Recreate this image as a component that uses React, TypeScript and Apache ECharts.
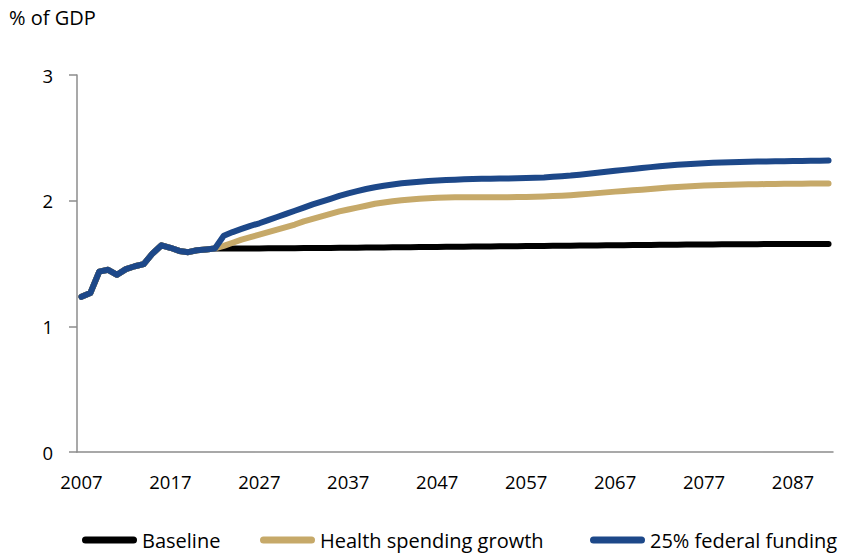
import React, { useEffect, useRef } from "react";
import * as echarts from "echarts";

const years: string[] = [];
for (let y = 2007; y <= 2091; y++) years.push(String(y));

// Shared history 2007-2022
const history = [1.235, 1.265, 1.435, 1.45, 1.41, 1.455, 1.478, 1.495, 1.58, 1.645, 1.625, 1.6, 1.59, 1.605, 1.612, 1.62];

// Projections 2023-2091
const baselineProj = [
  1.62, 1.62, 1.62, 1.62, 1.62, 1.621, 1.621, 1.622, 1.622, 1.623,
  1.623, 1.624, 1.624, 1.625, 1.626, 1.626, 1.627, 1.628, 1.628, 1.629,
  1.63, 1.63, 1.631, 1.632, 1.632, 1.633, 1.634, 1.634, 1.635, 1.636,
  1.636, 1.637, 1.638, 1.638, 1.639, 1.64, 1.64, 1.641, 1.642, 1.642,
  1.643, 1.644, 1.644, 1.645, 1.646, 1.646, 1.647, 1.648, 1.648, 1.649,
  1.65, 1.65, 1.651, 1.651, 1.652, 1.652, 1.653, 1.653, 1.654, 1.654,
  1.654, 1.655, 1.655, 1.655, 1.655, 1.656, 1.656, 1.656, 1.656,
];

const healthProj = [
  1.64, 1.665, 1.69, 1.71, 1.73, 1.75, 1.77, 1.79, 1.81, 1.835,
  1.855, 1.875, 1.895, 1.915, 1.93, 1.945, 1.96, 1.975, 1.985, 1.995,
  2.003, 2.01, 2.015, 2.02, 2.024, 2.026, 2.027, 2.028, 2.028, 2.028,
  2.028, 2.028, 2.028, 2.029, 2.03, 2.032, 2.034, 2.037, 2.04, 2.044,
  2.049, 2.054, 2.06, 2.066, 2.072, 2.077, 2.082, 2.087, 2.093, 2.099,
  2.104, 2.109, 2.113, 2.117, 2.12, 2.123, 2.125, 2.127, 2.129, 2.13,
  2.131, 2.132, 2.133, 2.134, 2.135, 2.135, 2.136, 2.136, 2.137,
];

const federalProj = [
  1.72, 1.75, 1.775, 1.8, 1.82, 1.845, 1.87, 1.895, 1.92, 1.945,
  1.97, 1.992, 2.015, 2.038, 2.058, 2.076, 2.093, 2.107, 2.119, 2.129,
  2.138, 2.145, 2.151, 2.156, 2.16, 2.164, 2.167, 2.17, 2.172, 2.174,
  2.175, 2.176, 2.177, 2.178, 2.18, 2.182, 2.185, 2.19, 2.195, 2.2,
  2.207, 2.215, 2.222, 2.23, 2.238, 2.245, 2.252, 2.26, 2.267, 2.274,
  2.28, 2.285, 2.29, 2.294, 2.298, 2.301, 2.304, 2.306, 2.308, 2.31,
  2.311, 2.312, 2.313, 2.314, 2.315, 2.316, 2.317, 2.318, 2.32,
];

const seriesNames = ["Baseline", "Health spending growth", "25% federal funding"];
const colors = ["#000000", "#C6A969", "#1D4889"];
const yTicks = { min: 0, max: 3, interval: 1 };

const FONT = "'Open Sans', 'Noto Sans', sans-serif";
const LEGEND_ICON =
  "path://M3.5,0 H51.5 A3.5,3.5 0 0 1 51.5,7 H3.5 A3.5,3.5 0 0 1 3.5,0 Z";

export default function App() {
  const ref = useRef<HTMLDivElement>(null);
  useEffect(() => {
    if (!ref.current) return;
    const chart = echarts.init(ref.current, undefined, { renderer: "svg" });
    const dataSets = [
      history.concat(baselineProj),
      history.concat(healthProj),
      history.concat(federalProj),
    ];
    const legendLefts = [77, 255, 585];
    chart.setOption({
      animation: false,
      backgroundColor: "#ffffff",
      textStyle: { fontFamily: FONT },
      title: {
        text: "% of GDP",
        left: 4,
        top: 2,
        textStyle: { fontFamily: FONT, fontSize: 20, fontWeight: "normal", color: "#000" },
      },
      legend: seriesNames.map((n, i) => ({
        data: [n],
        left: legendLefts[i],
        top: 525,
        itemWidth: 55,
        itemHeight: 7,
        icon: LEGEND_ICON,
        textStyle: { fontFamily: FONT, fontSize: 20, color: "#000" },
      })),
      grid: { left: 77, right: 8, top: 75, bottom: 105, containLabel: false },
      xAxis: {
        type: "category",
        data: years,
        boundaryGap: true,
        axisLine: { lineStyle: { color: "#8c8c8c", width: 1.5 } },
        axisTick: { interval: 9, length: 8, lineStyle: { color: "#8c8c8c", width: 1.5 } },
        axisLabel: { interval: 9, margin: 20, fontSize: 18.5, color: "#000", fontFamily: FONT },
        splitLine: { show: false },
      },
      yAxis: {
        type: "value",
        min: yTicks.min,
        max: yTicks.max,
        interval: yTicks.interval,
        axisLine: { show: true, lineStyle: { color: "#8c8c8c", width: 1.5 } },
        axisTick: { show: true, length: 8, lineStyle: { color: "#8c8c8c", width: 1.5 } },
        axisLabel: { margin: 24, fontSize: 18.5, color: "#000", fontFamily: FONT },
        splitLine: { show: false },
      },
      series: seriesNames.map((n, i) => ({
        name: n,
        type: "line",
        data: dataSets[i],
        showSymbol: false,
        symbol: "none",
        color: colors[i],
        lineStyle: { width: 6, color: colors[i], cap: "round", join: "round" },
        z: 2 + i,
      })),
    });
    return () => chart.dispose();
  }, []);
  return <div ref={ref} style={{ width: 841, height: 557, position: "absolute", left: 0, top: 0 }} />;
}
